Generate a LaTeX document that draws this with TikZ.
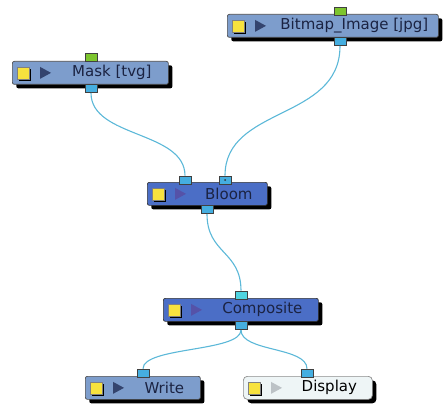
\documentclass[tikz,border=0pt]{standalone}
\usepackage{fontspec}
\setmainfont{DejaVu Sans}
\usetikzlibrary{calc,shadows}
\definecolor{lightnode}{HTML}{7D9DCC}
\definecolor{darknode}{HTML}{4B6EC6}
\definecolor{dispnode}{HTML}{EEF5F6}
\definecolor{wire}{HTML}{5CB8D8}
\definecolor{portblue}{HTML}{45AEE0}
\definecolor{portgreen}{HTML}{7DC52E}
\definecolor{portcyan}{HTML}{4FD3E0}
\definecolor{ysq}{HTML}{F7E23E}
\definecolor{txt}{HTML}{1B2342}
\definecolor{trilight}{HTML}{34446E}
\definecolor{tridark}{HTML}{5552A8}
\definecolor{tridisp}{HTML}{BCC2C6}
\tikzset{
  gbox/.style={draw=#1, rounded corners=2pt, line width=0.7pt, inner sep=0pt,
    minimum height=23pt, anchor=north west,
    drop shadow={shadow xshift=4pt, shadow yshift=-4pt, fill=black, opacity=1}},
  port/.style={draw=black!75, fill=#1, minimum width=12pt, minimum height=8pt,
    inner sep=0pt, line width=0.6pt},
  ysqr/.style={fill=ysq, draw=black!50, minimum size=12pt, inner sep=0pt, line width=0.4pt,
    drop shadow={shadow xshift=2pt, shadow yshift=-2pt, fill=black, opacity=1}},
  lbl/.style={font=\fontsize{15}{15}\selectfont, text=txt, inner sep=0pt},
  wireline/.style={draw=wire, line width=1.1pt},
}
\begin{document}
\begin{tikzpicture}[x=1pt,y=-1pt]
\useasboundingbox (0,0) rectangle (445,404);
% ---- boxes
\node[gbox=black!70, fill=lightnode, minimum width=156pt] (mask) at (12,61) {};
\node[gbox=black!70, fill=lightnode, minimum width=211pt] (bitmap) at (227,14) {};
\node[gbox=black!80, fill=darknode, minimum width=120pt] (bloom) at (147,182) {};
\node[gbox=black!80, fill=darknode, minimum width=155pt] (comp) at (163,298) {};
\node[gbox=black!70, fill=lightnode, minimum width=115pt] (write) at (85,376) {};
\node[gbox=black!45, fill=dispnode, minimum width=129pt, rounded corners=4pt] (disp) at (243,376) {};
% ---- yellow squares, triangles, labels
\foreach \n/\t/\c in {mask/Mask [tvg]/trilight, bitmap/Bitmap\_Image [jpg]/trilight,
  bloom/Bloom/tridark, comp/Composite/tridark, write/Write/trilight}{
  \node[ysqr] (\n sq) at ($(\n.west)+(11,0)$) {};
  \fill[\c] ($(\n.west)+(28,-6)$) -- ++(11,6) -- ++(-11,6) -- cycle;
  \node[lbl] (\n lbl) at ($(\n.center)+(21.5,0)$) {\t};
}
\node[ysqr] (dispsq) at ($(disp.west)+(11,0)$) {};
\fill[tridisp] ($(disp.west)+(28,-6)$) -- ++(11,6) -- ++(-11,6) -- cycle;
\node[lbl, text=black] (displbl) at ($(disp.center)+(21.5,0)$) {Display};
% ---- ports
\node[port=portgreen] (maskin) at ($(mask.north west)+(79,-4)$) {};
\node[port=portblue] (maskout) at ($(mask.south west)+(79,4)$) {};
\node[port=portgreen] (bitmapin) at ($(bitmap.north west)+(113,-3)$) {};
\node[port=portblue] (bitmapout) at ($(bitmap.south west)+(113,4)$) {};
\node[port=portblue] (bloomina) at ($(bloom.north west)+(38,-2)$) {};
\node[port=portblue] (bloominb) at ($(bloom.north west)+(78,-2)$) {};
\fill[black!80] (bloominb.center) circle (1pt);
\node[port=portblue] (bloomout) at ($(bloom.south west)+(60,4)$) {};
\node[port=portcyan] (compin) at ($(comp.north west)+(78,-3)$) {};
\node[port=portblue] (compout) at ($(comp.south west)+(78,4)$) {};
\node[port=portblue] (writein) at ($(write.north west)+(58,-3)$) {};
\node[port=portblue] (dispin) at ($(disp.north west)+(64,-3)$) {};
% ---- wires
\draw[wireline] (maskout.south) .. controls +(0,45) and +(0,-45) .. (bloomina.north);
\draw[wireline] (bitmapout.south) .. controls +(0,75) and +(0,-70) .. (bloominb.north);
\draw[wireline] (bloomout.south) .. controls +(0,40) and +(0,-40) .. (compin.north);
\draw[wireline] (compout.south) .. controls +(0,22) and +(0,-22) .. (writein.north);
\draw[wireline] (compout.south) .. controls +(0,22) and +(0,-22) .. (dispin.north);
\end{tikzpicture}
\end{document}
